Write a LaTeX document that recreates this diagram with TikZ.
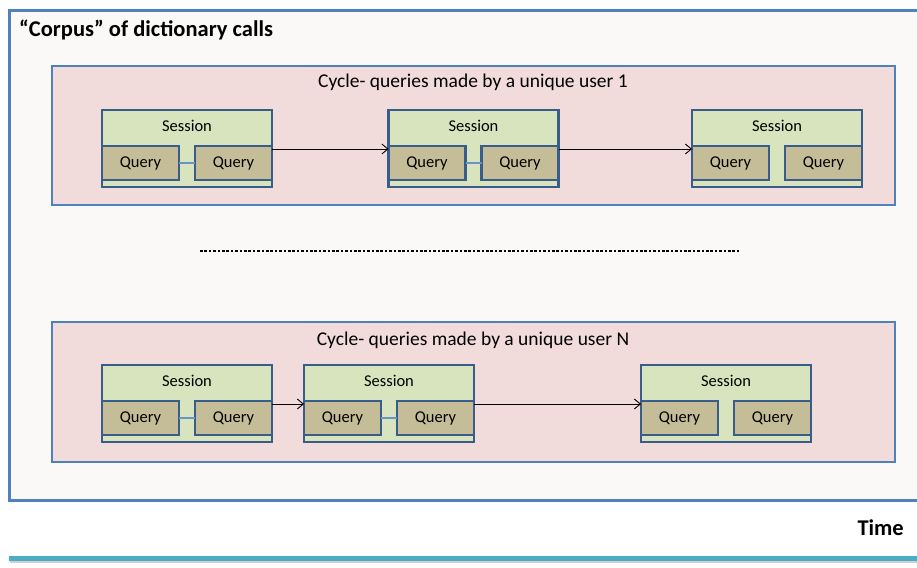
\documentclass[tikz,border=0pt]{standalone}
\usepackage{fontspec}
\setmainfont{Carlito}
\usetikzlibrary{arrows.meta}
\definecolor{frameblue}{HTML}{4F81BD}
\definecolor{darkblue}{HTML}{385D8A}
\definecolor{paper}{HTML}{FAF9F7}
\definecolor{cyclefill}{HTML}{F2DCDB}
\definecolor{sessfill}{HTML}{D7E4BD}
\definecolor{queryfill}{HTML}{C4BD97}
\definecolor{teal}{HTML}{4BACC6}
\tikzset{
  cyclebox/.style={draw=frameblue, line width=2.4pt, fill=cyclefill, inner sep=0, outer sep=0},
  sessbox/.style={draw=darkblue, line width=2.8pt, fill=sessfill, minimum width=170pt, minimum height=77pt, inner sep=0, outer sep=0},
  querybox/.style={draw=darkblue, line width=2.8pt, fill=queryfill, minimum width=77pt, minimum height=34pt, inner sep=0, outer sep=0, font=\fontsize{16.5}{16.5}\selectfont},
  sesslabel/.style={font=\fontsize{16.5}{16.5}\selectfont, inner sep=0},
  titlelabel/.style={font=\fontsize{19.5}{19.5}\selectfont, inner sep=0},
  qlink/.style={draw=frameblue!85!white, line width=1.2pt},
  flow/.style={draw=black, line width=0.9pt, -{Straight Barb[length=6pt,width=10pt]}},
}
\begin{document}
\begin{tikzpicture}[x=1pt, y=-1pt]
\useasboundingbox (0,0) rectangle (917,567);
\clip (0,0) rectangle (917,567);
\fill[white] (0,0) rectangle (917,567);

% corpus frame
\draw[draw=frameblue, line width=3pt, fill=paper] (9,11) rectangle (930,500);
\node[anchor=west, inner sep=0, font=\bfseries\fontsize{22.5}{22.5}\selectfont] (corpus) at (19,30) {“Corpus” of dictionary calls};

% session macro: name, center x, center y
\newcommand{\mksession}[3]{%
  \node[sessbox] (#1) at (#2,#3) {};
  \node[sesslabel] (#1t) at (#2,#3-23) {Session};
  \node[querybox] (#1a) at (#2-46.5,#3+14.5) {Query};
  \node[querybox] (#1b) at (#2+46.5,#3+14.5) {Query};
}

% cycle for user 1
\node[cyclebox, minimum width=843pt, minimum height=139pt, anchor=north west] (c1) at (52,66) {};
\node[titlelabel] (c1t) at (473,82) {Cycle- queries made by a unique user 1};
\mksession{sa}{187}{148.5}
\mksession{sb}{473.5}{148.5}
\mksession{sc}{777}{148.5}
\draw[qlink] (saa) -- (sab);
\draw[qlink] (sba) -- (sbb);
\draw[flow] ([yshift=-3pt]sab.north east) -- ([yshift=-3pt]sba.north west);
\draw[flow] ([yshift=-3pt]sbb.north east) -- ([yshift=-3pt]sca.north west);

% gap between cycles
\coordinate (dl) at (200,251);
\coordinate (dr) at (739,251);
\draw[line width=2.6pt, dash pattern=on 2.6pt off 1.8pt] (dl) -- (dr);

% cycle for user N
\node[cyclebox, minimum width=843pt, minimum height=140pt, anchor=north west] (cn) at (52,322) {};
\node[titlelabel] (cnt) at (473,340) {Cycle- queries made by a unique user N};
\mksession{na}{187}{403.5}
\mksession{nb}{389}{403.5}
\mksession{nc}{726}{403.5}
\draw[qlink] (naa) -- (nab);
\draw[qlink] (nba) -- (nbb);
\draw[flow] ([yshift=-3pt]nab.north east) -- ([yshift=-3pt]nba.north west);
\draw[flow] ([yshift=-3pt]nbb.north east) -- ([yshift=-3pt]nca.north west);

% time axis
\node[anchor=east, inner sep=0, font=\bfseries\fontsize{22.5}{22.5}\selectfont] (time) at (904,528) {Time};
\coordinate (tl) at (9,558.5);
\coordinate (tr) at (917,558.5);
\draw[black!30, line width=3pt, opacity=0.6] ([shift={(1,3)}]tl) -- ([shift={(1,3)}]tr);
\draw[teal, line width=5pt] (tl) -- (tr);
\end{tikzpicture}
\end{document}
